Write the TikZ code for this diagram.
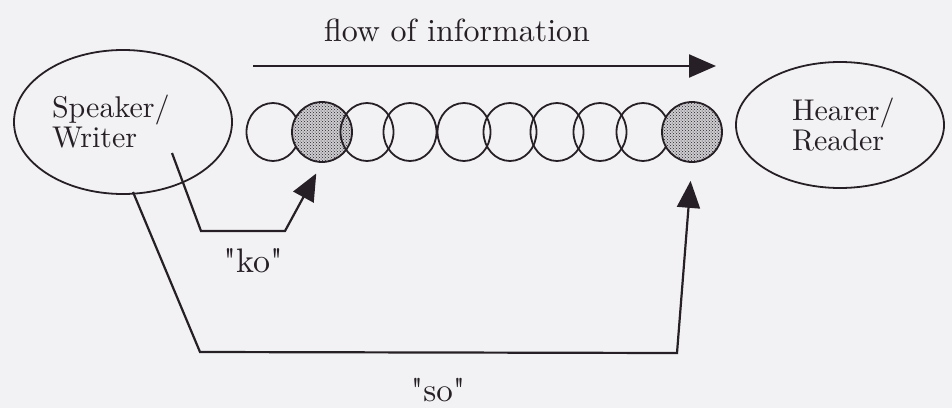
\documentclass[tikz,border=0pt]{standalone}
\usepackage{fontspec}
\setmainfont{lmroman10-regular}[Extension=.otf, Ligatures=TeXOff]
\usepackage{tikz}
\usetikzlibrary{shapes.geometric, arrows.meta, patterns, positioning}

\definecolor{paper}{RGB}{242,242,244}
\definecolor{ink}{RGB}{38,32,38}

\begin{document}
\begin{tikzpicture}[
    x=1pt, y=1pt,
    party/.style={draw=ink, ellipse, line width=1.8pt, inner sep=0pt, align=left, text=ink, font=\fontsize{30}{30}\selectfont},
    bead/.style={draw=ink, ellipse, line width=1.8pt, inner sep=0pt, minimum width=53pt, minimum height=58pt},
    marked/.style={bead, circle, minimum size=60pt, preaction={fill=ink!18!paper}, pattern=crosshatch dots, pattern color=ink},
    arrow/.style={-{Triangle[length=27pt, width=23pt]}, line width=2.2pt, draw=ink},
    lbl/.style={text=ink, font=\fontsize{33}{36}\selectfont}
]

\path[fill=paper, use as bounding box] (0,0) rectangle (952,408);

% Participants
\node[party, minimum width=218pt, minimum height=144pt, text width=142pt] (speaker) at (123,286) {Speaker/\\Writer};
\node[party, minimum width=208pt, minimum height=126pt, text width=96pt] (hearer) at (840,283) {Hearer/\\Reader};

% Chain of information units
\foreach \x/\s [count=\i] in {273/bead, 322/marked, 367/bead, 410/bead, 464/bead,
                              510/bead, 557/bead, 600/bead, 643/bead, 692/marked}
    \node[\s] (c\i) at (\x,276) {};

% Direction of flow
\coordinate (flowstart) at (253,342);
\coordinate (flowend) at (716,342);
\draw[arrow] (flowstart) -- (flowend);
\node[lbl, font=\fontsize{32}{36}\selectfont] (flow) at (457,378) {flow of information};

% Pointing with "ko"
\coordinate (kofoot) at (172,255);
\draw[arrow, shorten >=12pt] (kofoot) -- ++(29,-78) -- ++(84,0) -- (c2.south);
\node[lbl, font=\fontsize{34}{36}\selectfont] (ko) at (253,147) {"ko"};

% Pointing with "so"
\coordinate (sofoot) at (133,216);
\draw[arrow, shorten >=18pt] (sofoot) -- ++(67,-160) -- ++(477,-1) -- (c10.south);
\node[lbl, font=\fontsize{33}{36}\selectfont] (so) at (438,18) {"so"};

\end{tikzpicture}
\end{document}
